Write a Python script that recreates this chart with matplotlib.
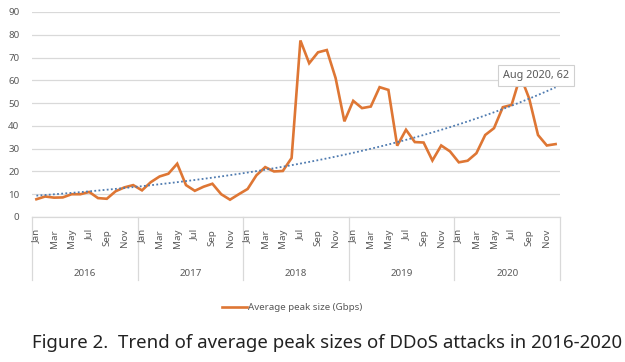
import numpy as np
import matplotlib
matplotlib.use("Agg")
import matplotlib.pyplot as plt
from matplotlib.lines import Line2D
import matplotlib.transforms as mtrans

plt.rcParams['font.family'] = ['Noto Sans', 'DejaVu Sans']

years = ['2016', '2017', '2018', '2019', '2020']
months = ['Jan', 'Feb', 'Mar', 'Apr', 'May', 'Jun', 'Jul', 'Aug', 'Sep', 'Oct', 'Nov', 'Dec']
month_labels_shown = ['Jan', 'Mar', 'May', 'Jul', 'Sep', 'Nov']

peak_2016 = [7.8, 9.0, 8.5, 8.6, 10.0, 10.0, 11.0, 8.3, 8.0, 11.3, 13.0, 14.0]
peak_2017 = [11.7, 15.3, 17.8, 19.0, 23.4, 14.0, 11.5, 13.3, 14.6, 10.0, 7.6, 10.0]
peak_2018 = [12.3, 18.3, 21.9, 20.0, 20.2, 25.9, 77.5, 67.5, 72.3, 73.3, 61.0, 42.0]
peak_2019 = [51.0, 47.8, 48.5, 57.0, 55.8, 31.3, 38.3, 32.9, 32.7, 24.8, 31.4, 28.8]
peak_2020 = [24.0, 24.7, 28.0, 36.0, 39.0, 48.2, 49.2, 62.0, 52.0, 36.0, 31.4, 32.0]

series_name = 'Average peak size (Gbps)'
annot_label = 'Aug 2020, 62'
caption = 'Figure 2.  Trend of average peak sizes of DDoS attacks in 2016-2020'

values = np.array(peak_2016 + peak_2017 + peak_2018 + peak_2019 + peak_2020)
x = np.arange(len(values))

# exponential trendline (least squares on log values)
b, a = np.polyfit(x, np.log(values), 1)
trend = np.exp(a + b * x)

W, H = 625, 362
fig = plt.figure(figsize=(W / 100, H / 100), dpi=100)
ax = fig.add_axes([32 / W, 1 - 217 / H, (560 - 32) / W, (217 - 12) / H])

gray_txt = '#595959'
grid_c = '#D9D9D9'
orange = '#DE7634'
blue = '#4F7BB0'

ax.set_xlim(-0.5, len(values) - 0.5)
ax.set_ylim(0, 90)
ax.set_yticks(np.arange(0, 91, 10))
ax.yaxis.grid(True, color=grid_c, lw=0.9)
ax.set_axisbelow(True)
for s in ['left', 'right', 'top']:
    ax.spines[s].set_visible(False)
ax.spines['bottom'].set_color(grid_c)
ax.spines['bottom'].set_linewidth(0.9)
ax.tick_params(axis='y', length=0, pad=9, labelsize=7, labelcolor=gray_txt)
ax.set_xticks([])

ax.plot(x, values, color=orange, lw=1.9, solid_joinstyle='miter', zorder=3)
ax.plot(x, trend, color=blue, lw=1.3, ls=(0, (1, 1.3)), zorder=4)

# category axis
tr = mtrans.blended_transform_factory(ax.transData, ax.transAxes)
ax_h = 217 - 12
for k in range(len(years) + 1):
    xb = k * 12 - 0.5
    ax.plot([xb, xb], [0, -(280 - 217) / ax_h], color=grid_c, lw=0.9,
            transform=tr, clip_on=False)
for yi, yr in enumerate(years):
    for mi, m in enumerate(months):
        if m in month_labels_shown:
            ax.text(yi * 12 + mi, -(229 - 217) / ax_h, m, rotation=90,
                    ha='center', va='top', fontsize=7, color=gray_txt,
                    transform=tr)
    ax.text(yi * 12 + 5.5, -(273 - 217) / ax_h, yr, ha='center', va='center',
            fontsize=7, color=gray_txt, transform=tr)

# annotation
idx = int(np.argmax(values[48:]) + 48)
ax.annotate(annot_label, xy=(idx, values[idx]), xytext=(11, 0),
            textcoords='offset points', ha='center', va='center',
            fontsize=7.8, color=gray_txt, zorder=6,
            bbox=dict(boxstyle='square,pad=0.45', fc='white', ec='#D0D0D0', lw=0.8))

# legend
fig.legend(handles=[Line2D([], [], color=orange, lw=1.9)], labels=[series_name],
           loc='center', bbox_to_anchor=(292 / W, 1 - 308 / H), frameon=False,
           fontsize=7, labelcolor=gray_txt, handlelength=2.6, handletextpad=0.1)

fig.text(32 / W, 1 - 343 / H, caption, ha='left', va='center', fontsize=13.4,
         color='#222222')

fig.savefig('out.png', dpi=100, facecolor='white')
